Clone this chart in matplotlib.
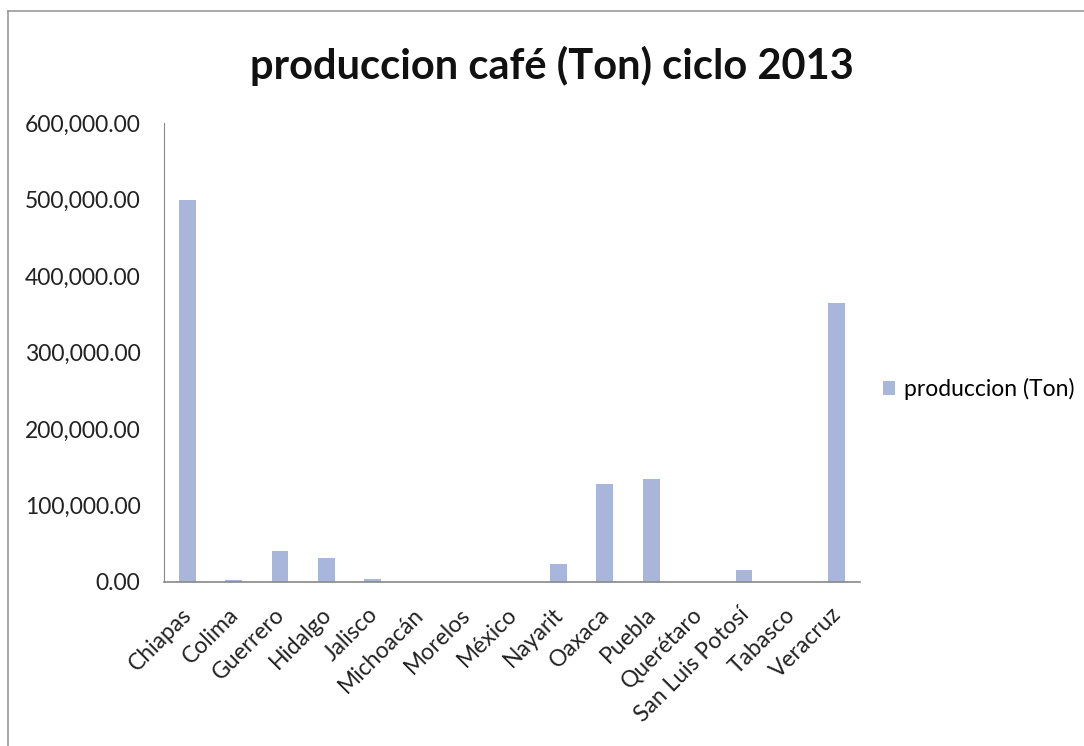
import matplotlib
matplotlib.use("Agg")
import matplotlib.pyplot as plt
import matplotlib.transforms as mtransforms
from matplotlib.ticker import FuncFormatter, FixedLocator
from matplotlib.lines import Line2D

estados = ["Chiapas", "Colima", "Guerrero", "Hidalgo", "Jalisco", "Michoacán", "Morelos",
           "México", "Nayarit", "Oaxaca", "Puebla", "Querétaro", "San Luis Potosí",
           "Tabasco", "Veracruz"]
produccion = [499000, 2600, 40000, 31500, 4000, 300, 150, 200, 23500, 128500, 135000,
              250, 16000, 150, 365000]
yticks = [0, 100000, 200000, 300000, 400000, 500000, 600000]
titulo = "produccion café (Ton) ciclo 2013"
serie = "produccion (Ton)"

plt.rcParams['font.family'] = ['Lato', 'DejaVu Sans']

W, H = 1084, 746
fig = plt.figure(figsize=(W/100, H/100), dpi=100)
ax = fig.add_axes([164/W, 1 - 582/H, (860-164)/W, (582-123)/H])

x = list(range(len(estados)))
ax.bar(x, produccion, width=0.36, color="#A9B6DC", label=serie, zorder=2)
ax.set_xlim(-0.5, len(estados) - 0.5)
ax.set_ylim(0, 600000)
ax.yaxis.set_major_locator(FixedLocator(yticks))
ax.yaxis.set_major_formatter(FuncFormatter(lambda v, p: f"{v:,.2f}"))
ax.set_xticks(x)
ax.set_xticklabels(estados, rotation=45, ha="right", va="top", rotation_mode="anchor")
ax.tick_params(axis="both", labelsize=16.5, colors="#222222", length=0)
ax.tick_params(axis="y", pad=17)
ax.tick_params(axis="x", pad=15)
offset = mtransforms.ScaledTranslation(-6/100, -1/100, fig.dpi_scale_trans)
for lbl in ax.get_xticklabels():
    lbl.set_transform(lbl.get_transform() + offset)
for s in ["top", "right"]:
    ax.spines[s].set_visible(False)
ax.spines["left"].set_color("#888888")
ax.spines["bottom"].set_color("#888888")
ax.spines["bottom"].set_linewidth(1.2)

fig.text(552/W, 1 - 66/H, titulo, ha="center", va="center", fontsize=30,
         fontweight="bold", color="#111111")

fig.legend(loc="center left", bbox_to_anchor=(862/W, 1 - 389/H), frameon=False,
           fontsize=16.5, handlelength=0.55, handleheight=0.55, handletextpad=0.4)

# outer chart-area border (top and left edges visible)
fig.add_artist(Line2D([8/W, 1], [1 - 11/H, 1 - 11/H], transform=fig.transFigure,
                      color="#999999", linewidth=1.2))
fig.add_artist(Line2D([8/W, 8/W], [0, 1 - 11/H], transform=fig.transFigure,
                      color="#999999", linewidth=1.2))

fig.savefig("out.png", dpi=100)
